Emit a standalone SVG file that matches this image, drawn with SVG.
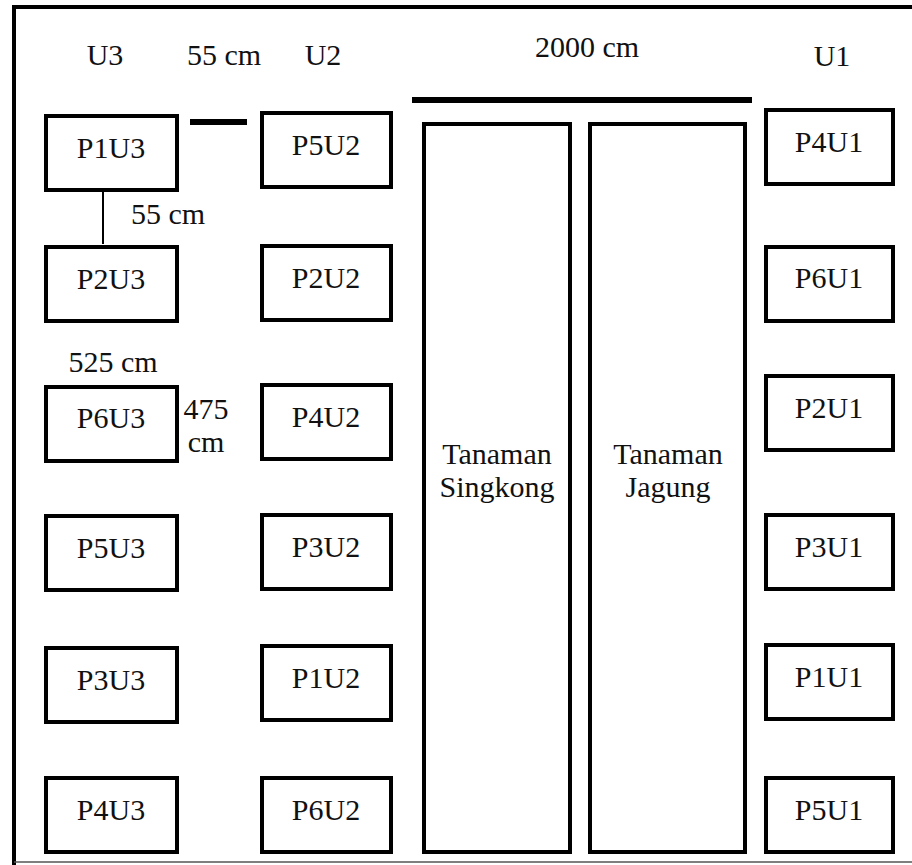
<svg xmlns="http://www.w3.org/2000/svg" width="912" height="865" viewBox="0 0 912 865">
<defs>
<rect id="bu3" width="131" height="74" fill="#fff" stroke="#000" stroke-width="4"/>
<rect id="bu2" width="129" height="74" fill="#fff" stroke="#000" stroke-width="4"/>
<rect id="bu1" width="127" height="74" fill="#fff" stroke="#000" stroke-width="4"/>
</defs>
<rect x="0" y="0" width="912" height="865" fill="#fff"/>
<path d="M14,865 V7 H914" fill="none" stroke="#000" stroke-width="4"/>
<path d="M14,862 H914" fill="none" stroke="#555" stroke-width="1.5"/>
<g id="connectors">
<line x1="412" y1="100" x2="752" y2="100" stroke="#000" stroke-width="6"/>
<line x1="190" y1="122" x2="247" y2="122" stroke="#000" stroke-width="6"/>
<line x1="103" y1="191" x2="103" y2="244" stroke="#000" stroke-width="2"/>
</g>
<g id="nodes" font-size="30" fill="#111" text-anchor="middle">
<g id="labels">
<text font-family="Liberation Serif" x="105" y="65">U3</text>
<text font-family="Liberation Serif" x="224" y="65">55 cm</text>
<text font-family="Liberation Serif" x="323" y="65">U2</text>
<text font-family="Liberation Serif" x="587" y="57">2000 cm</text>
<text font-family="Liberation Serif" x="832" y="66">U1</text>
<text font-family="Liberation Serif" x="168" y="224">55 cm</text>
<text font-family="Liberation Serif" x="113" y="372">525 cm</text>
<text font-family="Liberation Serif" x="206" y="419">475</text>
<text font-family="Liberation Serif" x="206" y="452">cm</text>
</g>
<g id="P1U3"><use href="#bu3" x="46" y="116"/><text font-family="Liberation Serif" x="111" y="158">P1U3</text></g>
<g id="P2U3"><use href="#bu3" x="46" y="247"/><text font-family="Liberation Serif" x="111" y="289">P2U3</text></g>
<g id="P6U3"><use href="#bu3" x="46" y="387"/><text font-family="Liberation Serif" x="111" y="428">P6U3</text></g>
<g id="P5U3"><use href="#bu3" x="46" y="516"/><text font-family="Liberation Serif" x="111" y="558">P5U3</text></g>
<g id="P3U3"><use href="#bu3" x="46" y="648"/><text font-family="Liberation Serif" x="111" y="690">P3U3</text></g>
<g id="P4U3"><use href="#bu3" x="46" y="778"/><text font-family="Liberation Serif" x="111" y="820">P4U3</text></g>
<g id="P5U2"><use href="#bu2" x="262" y="113"/><text font-family="Liberation Serif" x="326" y="155">P5U2</text></g>
<g id="P2U2"><use href="#bu2" x="262" y="246"/><text font-family="Liberation Serif" x="326" y="288">P2U2</text></g>
<g id="P4U2"><use href="#bu2" x="262" y="385"/><text font-family="Liberation Serif" x="326" y="427">P4U2</text></g>
<g id="P3U2"><use href="#bu2" x="262" y="515"/><text font-family="Liberation Serif" x="326" y="557">P3U2</text></g>
<g id="P1U2"><use href="#bu2" x="262" y="646"/><text font-family="Liberation Serif" x="326" y="688">P1U2</text></g>
<g id="P6U2"><use href="#bu2" x="262" y="778"/><text font-family="Liberation Serif" x="326" y="820">P6U2</text></g>
<g id="Singkong"><rect x="424" y="124" width="146" height="728" fill="#fff" stroke="#000" stroke-width="4"/><text font-family="Liberation Serif" x="497" y="464">Tanaman</text><text font-family="Liberation Serif" x="497" y="497">Singkong</text></g>
<g id="Jagung"><rect x="590" y="124" width="155" height="728" fill="#fff" stroke="#000" stroke-width="4"/><text font-family="Liberation Serif" x="668" y="464">Tanaman</text><text font-family="Liberation Serif" x="668" y="497">Jagung</text></g>
<g id="P4U1"><use href="#bu1" x="766" y="110"/><text font-family="Liberation Serif" x="829" y="152">P4U1</text></g>
<g id="P6U1"><use href="#bu1" x="766" y="247"/><text font-family="Liberation Serif" x="829" y="288">P6U1</text></g>
<g id="P2U1"><use href="#bu1" x="766" y="376"/><text font-family="Liberation Serif" x="829" y="418">P2U1</text></g>
<g id="P3U1"><use href="#bu1" x="766" y="515"/><text font-family="Liberation Serif" x="829" y="557">P3U1</text></g>
<g id="P1U1"><use href="#bu1" x="766" y="645"/><text font-family="Liberation Serif" x="829" y="687">P1U1</text></g>
<g id="P5U1"><use href="#bu1" x="766" y="778"/><text font-family="Liberation Serif" x="829" y="820">P5U1</text></g>
</g>
</svg>
